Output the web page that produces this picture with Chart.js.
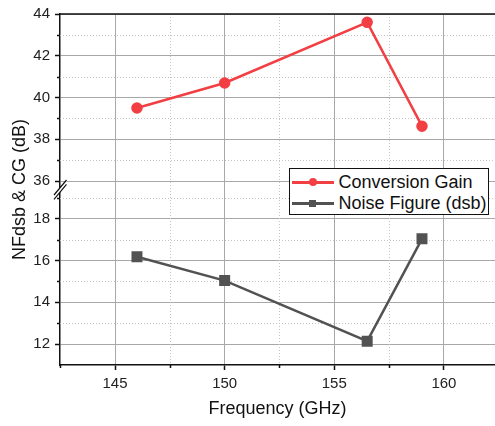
<!DOCTYPE html>
<html>
<head>
<meta charset="utf-8">
<script src="https://cdn.jsdelivr.net/npm/chart.js@4/dist/chart.umd.min.js"></script>
<style>
  html, body { margin: 0; padding: 0; background: #fff; }
  #wrap { position: relative; width: 495px; height: 426px; }
  #legend {
    position: absolute; left: 289px; top: 168px; width: 200px; height: 47px;
    border: 1.5px solid #111; background: #fff; box-sizing: border-box;
    font-family: "Liberation Sans", Arial, sans-serif; font-size: 18px; color: #111;
  }
  .row { position: absolute; left: 1.5px; height: 22px; display: flex; align-items: center; white-space: nowrap; }
  .swatch { position: relative; width: 42px; height: 22px; margin-right: 5px; }
  .swatch .ln { position: absolute; left: 0; right: 0; top: 9.5px; height: 3px; }
  .swatch .mk { position: absolute; }
</style>
</head>
<body>
<div id="wrap">
  <canvas id="chart" width="495" height="426"></canvas>
  <div id="legend"></div>
</div>
<script>
// values
const freqGHz = [146, 150, 156.5, 159];
const conversionGainDb = [39.5, 40.7, 43.6, 38.63];
const noiseFigureDb = [16.18, 15.04, 12.14, 17.04];
const seriesNames = ['Conversion Gain', 'Noise Figure (dsb)'];
const seriesColors = ['#f23f43', '#525252'];

const FONT = '"Liberation Sans", Arial, sans-serif';
const MAJOR_GRID = '#a8a8a8';
const MINOR_GRID = '#c4c4c4';
const CLEAR = 'rgba(0,0,0,0)';

const isMajorY = v => Math.abs(v % 2) < 1e-6;
const isMajorX = v => Math.abs(v % 5) < 1e-6;

// dotted minor grid, short minor ticks, top frame line and the axis break marks
const extras = {
  id: 'extras',
  beforeDatasetsDraw(chart) {
    const { ctx, chartArea: a, scales } = chart;
    ctx.save();
    ctx.strokeStyle = MINOR_GRID;
    ctx.lineWidth = 1;
    ctx.setLineDash([1, 2]);
    for (const t of scales.x.ticks) {
      if (isMajorX(t.value)) continue;
      const px = Math.round(scales.x.getPixelForValue(t.value)) + 0.5;
      if (px < a.left + 2 || px > a.right - 1) continue;
      ctx.beginPath(); ctx.moveTo(px, a.top); ctx.lineTo(px, a.bottom); ctx.stroke();
    }
    for (const id of ['yCG', 'yNF']) {
      const s = scales[id];
      for (const t of s.ticks) {
        if (isMajorY(t.value)) continue;
        const py = Math.round(s.getPixelForValue(t.value)) + 0.5;
        if (py > a.bottom - 2 || py < a.top + 2) continue;
        ctx.beginPath(); ctx.moveTo(a.left, py); ctx.lineTo(a.right, py); ctx.stroke();
      }
    }
    ctx.setLineDash([]);
    ctx.strokeStyle = '#111';
    ctx.lineWidth = 1.5;
    // minor ticks, shorter than the major ones
    ctx.beginPath();
    for (const t of scales.x.ticks) {
      if (isMajorX(t.value)) continue;
      const px = Math.round(scales.x.getPixelForValue(t.value)) + 0.5;
      ctx.moveTo(px, a.bottom); ctx.lineTo(px, a.bottom + 3);
    }
    for (const id of ['yCG', 'yNF']) {
      const s = scales[id];
      for (const t of s.ticks) {
        if (isMajorY(t.value)) continue;
        const py = Math.round(s.getPixelForValue(t.value)) + 0.5;
        if (py > a.bottom - 2) continue;
        ctx.moveTo(a.left, py); ctx.lineTo(a.left - 3, py);
      }
    }
    ctx.stroke();
    ctx.beginPath(); ctx.moveTo(a.left, a.top); ctx.lineTo(a.right, a.top); ctx.stroke();
    ctx.restore();
  },
  afterDraw(chart) {
    const { ctx, chartArea: a, scales } = chart;
    const yb = scales.yCG.bottom;
    const x0 = a.left;
    ctx.save();
    ctx.fillStyle = '#fff';
    ctx.beginPath();
    ctx.moveTo(x0 - 6, yb + 5.5);
    ctx.lineTo(x0 + 6.5, yb - 9.5);
    ctx.lineTo(x0 + 6.5, yb - 5.2);
    ctx.lineTo(x0 - 6, yb + 9.8);
    ctx.closePath();
    ctx.fill();
    ctx.strokeStyle = '#111';
    ctx.lineWidth = 1.2;
    ctx.beginPath();
    ctx.moveTo(x0 - 6, yb + 5.5); ctx.lineTo(x0 + 6.5, yb - 9.5);
    ctx.moveTo(x0 - 6, yb + 9.8); ctx.lineTo(x0 + 6.5, yb - 5.2);
    ctx.stroke();
    ctx.restore();
  }
};

const tickFont = { family: FONT, size: 15 };
const yTicks = {
  stepSize: 1,
  includeBounds: false,
  autoSkip: false,
  padding: 5,
  color: '#222',
  font: tickFont,
  callback: v => isMajorY(v) ? v : ''
};
const yGrid = {
  color: ctx => isMajorY(ctx.tick.value) ? MAJOR_GRID : CLEAR,
  tickColor: ctx => isMajorY(ctx.tick.value) ? '#111' : CLEAR,
  tickLength: 5,
  tickWidth: 1.5,
  lineWidth: 1
};
const axisBorder = { color: '#111', width: 1.5 };

const datasets = [
  {
    label: seriesNames[0],
    data: freqGHz.map((x, i) => ({ x, y: conversionGainDb[i] })),
    yAxisID: 'yCG',
    borderColor: seriesColors[0],
    backgroundColor: seriesColors[0],
    borderWidth: 2.5,
    pointStyle: 'circle',
    pointRadius: 4.5,
    tension: 0
  },
  {
    label: seriesNames[1],
    data: freqGHz.map((x, i) => ({ x, y: noiseFigureDb[i] })),
    yAxisID: 'yNF',
    borderColor: seriesColors[1],
    backgroundColor: seriesColors[1],
    borderWidth: 2.5,
    pointStyle: 'rect',
    pointRadius: 6,
    tension: 0
  }
];

new Chart(document.getElementById('chart').getContext('2d'), {
  type: 'line',
  data: { datasets },
  plugins: [extras],
  options: {
    responsive: false,
    animation: false,
    layout: { autoPadding: false, padding: { top: 12, right: 0, bottom: 0, left: 0 } },
    plugins: { legend: { display: false }, tooltip: { enabled: false } },
    scales: {
      x: {
        type: 'linear',
        min: 142.49,
        max: 162.33,
        ticks: {
          stepSize: 2.5,
          includeBounds: false,
          autoSkip: false,
          maxRotation: 0,
          padding: 5,
          color: '#222',
          font: tickFont,
          callback: v => isMajorX(v) ? v : ''
        },
        grid: {
          color: ctx => isMajorX(ctx.tick.value) ? MAJOR_GRID : CLEAR,
          tickColor: ctx => isMajorX(ctx.tick.value) ? '#111' : CLEAR,
          tickLength: 5,
          tickWidth: 1.5
        },
        border: axisBorder,
        title: {
          display: true,
          text: 'Frequency (GHz)',
          color: '#111',
          font: { family: FONT, size: 18 },
          padding: { top: 4, bottom: 6 }
        },
        afterFit: s => { s.height = 61; }
      },
      yNF: {
        type: 'linear',
        position: 'left',
        stack: 'left',
        stackWeight: 8.4,
        min: 11,
        max: 19.4,
        ticks: yTicks,
        grid: yGrid,
        border: axisBorder,
        afterFit: s => { s.width = 32; }
      },
      yCG: {
        type: 'linear',
        position: 'left',
        stack: 'left',
        stackWeight: 8.4,
        min: 35.6,
        max: 44,
        ticks: yTicks,
        grid: yGrid,
        border: axisBorder,
        afterFit: s => { s.width = 32; }
      },
      yTitle: {
        type: 'linear',
        position: 'left',
        min: 0,
        max: 1,
        ticks: { display: false },
        grid: { display: false, drawTicks: false },
        border: { display: false },
        title: {
          display: true,
          text: 'NFdsb & CG (dB)',
          color: '#111',
          font: { family: FONT, size: 18 },
          padding: { top: 9, bottom: 0 }
        },
        afterFit: s => { s.width = 28; }
      }
    }
  }
});

// legend box drawn as html over the plot
const legendEl = document.getElementById('legend');
datasets.forEach((ds, i) => {
  const row = document.createElement('div');
  row.className = 'row';
  row.style.top = (2 + i * 21.5) + 'px';
  const sw = document.createElement('div');
  sw.className = 'swatch';
  const ln = document.createElement('div');
  ln.className = 'ln';
  ln.style.background = ds.borderColor;
  const mk = document.createElement('div');
  mk.className = 'mk';
  mk.style.background = ds.borderColor;
  if (ds.pointStyle === 'circle') {
    Object.assign(mk.style, { width: '8px', height: '8px', borderRadius: '50%', left: '17px', top: '7px' });
  } else {
    Object.assign(mk.style, { width: '7px', height: '7px', left: '17.5px', top: '7.5px' });
  }
  sw.appendChild(ln);
  sw.appendChild(mk);
  const label = document.createElement('span');
  label.textContent = ds.label;
  row.appendChild(sw);
  row.appendChild(label);
  legendEl.appendChild(row);
});
</script>
</body>
</html>
